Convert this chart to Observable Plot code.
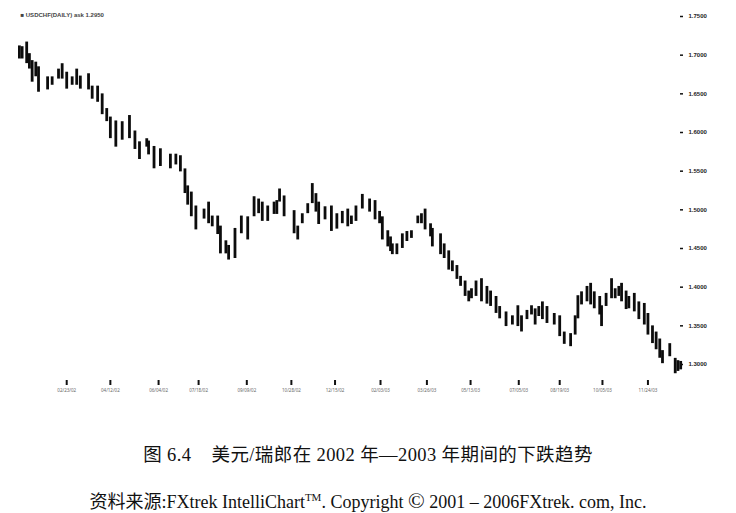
<!DOCTYPE html>
<html>
<head>
<meta charset="utf-8">
<script src="https://cdn.jsdelivr.net/npm/d3@7"></script>
<script src="https://cdn.jsdelivr.net/npm/@observablehq/plot@0.6"></script>
<style>
  html, body { margin: 0; padding: 0; background: #fff; }
  #wrap { position: relative; width: 736px; height: 513px; overflow: hidden; }
  .cap { position: absolute; left: 0; width: 736px; text-align: center; white-space: nowrap;
         font-family: "Liberation Serif", "Noto Sans CJK SC", serif; color: #111; }
  #cap1 { top: 442px; font-size: 18.5px; line-height: 26px; letter-spacing: 0.4px; }
  #cap2 { top: 484px; font-size: 18px; line-height: 26px; }
  #cap2 b { font-family: "Noto Sans CJK SC", sans-serif; font-weight: 400; }
</style>
</head>
<body>
<div id="wrap">
  <div id="chart"></div>
  <div class="cap" id="cap1">图 6.4&nbsp;&nbsp;&nbsp;&nbsp;美元/瑞郎在 2002 年—2003 年期间的下跌趋势</div>
  <div class="cap" id="cap2"><b>资料来源</b>:FXtrek IntelliChart<sup style="font-size:11px">TM</sup>. Copyright <span style="font-size:22px">©</span> 2001 – 2006FXtrek. com, Inc.</div>
</div>
<script>
// day offsets from 2002-01-01
const day = [1,4,9,12,15,19,22,32,37,44,48,53,59,64,68,77,81,87,92,97,101,107,114,122,128,133,141,143,149,156,167,173,178,183,186,190,195,204,209,213,219,222,228,231,238,245,252,259,264,268,274,281,284,287,292,303,307,312,318,323,327,330,337,344,350,356,362,366,371,378,386,392,397,400,406,409,411,416,422,427,432,439,443,447,453,455,464,468,473,477,482,486,491,495,498,503,509,515,519,525,529,536,543,549,553,559,564,568,572,576,581,589,595,600,607,612,615,619,625,629,633,639,641,646,652,656,660,663,668,671,677,682,688,692,697,701,705,708,716,722,725,728];
const high = [1.710,1.709,1.715,1.700,1.691,1.689,1.683,1.670,1.670,1.680,1.687,1.676,1.670,1.680,1.671,1.674,1.658,1.658,1.648,1.629,1.618,1.613,1.612,1.620,1.600,1.586,1.590,1.587,1.580,1.577,1.570,1.570,1.568,1.551,1.529,1.521,1.503,1.499,1.508,1.490,1.490,1.477,1.458,1.452,1.474,1.490,1.489,1.515,1.512,1.508,1.503,1.508,1.510,1.525,1.516,1.497,1.477,1.493,1.506,1.532,1.519,1.508,1.502,1.503,1.493,1.496,1.499,1.490,1.503,1.518,1.512,1.510,1.496,1.489,1.471,1.463,1.454,1.454,1.467,1.470,1.471,1.490,1.493,1.499,1.480,1.474,1.467,1.454,1.445,1.432,1.426,1.412,1.406,1.393,1.396,1.406,1.409,1.399,1.393,1.386,1.373,1.366,1.361,1.374,1.361,1.368,1.374,1.370,1.373,1.379,1.373,1.364,1.361,1.340,1.338,1.361,1.387,1.392,1.399,1.403,1.392,1.386,1.374,1.390,1.409,1.396,1.399,1.403,1.393,1.386,1.390,1.379,1.377,1.364,1.348,1.340,1.331,1.316,1.325,1.306,1.303,1.302];
const low = [1.697,1.697,1.691,1.684,1.667,1.674,1.654,1.657,1.663,1.671,1.671,1.658,1.663,1.663,1.658,1.657,1.645,1.641,1.625,1.616,1.594,1.583,1.592,1.594,1.580,1.567,1.583,1.573,1.555,1.558,1.555,1.560,1.551,1.523,1.508,1.493,1.476,1.490,1.484,1.480,1.470,1.445,1.445,1.437,1.439,1.471,1.463,1.493,1.497,1.487,1.487,1.496,1.496,1.512,1.493,1.471,1.463,1.484,1.497,1.510,1.499,1.483,1.489,1.474,1.477,1.484,1.480,1.483,1.487,1.503,1.499,1.489,1.484,1.463,1.454,1.448,1.444,1.444,1.452,1.461,1.465,1.484,1.484,1.476,1.467,1.454,1.444,1.439,1.424,1.422,1.412,1.403,1.390,1.383,1.387,1.390,1.383,1.380,1.377,1.368,1.361,1.351,1.353,1.351,1.344,1.360,1.366,1.353,1.364,1.360,1.355,1.353,1.338,1.328,1.325,1.340,1.361,1.379,1.383,1.379,1.374,1.366,1.351,1.377,1.387,1.387,1.390,1.383,1.373,1.374,1.370,1.360,1.353,1.340,1.329,1.321,1.310,1.303,1.312,1.290,1.293,1.295];
const yTicks = [1.30,1.35,1.40,1.45,1.50,1.55,1.60,1.65,1.70,1.75];
const xTickDays = [53,101,154,198,251,300,348,398,449,497,550,595,642,692];
const header = "■ USDCHF(DAILY) ask 1.2950";

const base = Date.UTC(2002, 0, 1);
const toDate = d => new Date(base + d * 864e5);
const rows = day.map((d, i) => ({date: toDate(d), high: high[i], low: low[i]}));
const xTicks = xTickDays.map(toDate);

const chart = Plot.plot({
  width: 736,
  height: 420,
  marginLeft: 18,
  marginTop: 10,
  marginRight: 57,
  marginBottom: 40,
  style: {background: "#fff", color: "#111"},
  x: {type: "utc", domain: [toDate(0), toDate(730)], range: [18, 682]},
  y: {domain: [1.30, 1.75], range: [364, 16]},
  marks: [
    Plot.ruleX(rows, {x: "date", y1: "low", y2: "high", stroke: "#222", strokeWidth: 1}),
    Plot.ruleX(rows, {x: "date", y1: "low", y2: "high", stroke: "#0c0c0c", strokeWidth: 2.8, insetTop: 1.5, insetBottom: 1.5}),
    Plot.axisY({anchor: "right", ticks: yTicks, tickFormat: d3.format(".4f"), tickSize: 3, tickPadding: 6,
      fontSize: 6, fontWeight: "bold", fontFamily: "Liberation Sans, Arial, sans-serif", fill: "#222", strokeWidth: 1.5, label: null}),
    Plot.axisX({anchor: "bottom", ticks: xTicks, tickFormat: d3.utcFormat("%m/%d/%y"), tickSize: 5, tickPadding: 3,
      fontSize: 4.5, fill: "#666", strokeWidth: 2, label: null}),
    Plot.text([header], {frameAnchor: "top-left", text: d => d, dx: 2, dy: 2, fontSize: 6, fontWeight: "bold",
      fill: "#444", textAnchor: "start", fontFamily: "Liberation Sans, Arial, sans-serif"})
  ]
});
document.getElementById("chart").appendChild(chart);
</script>
</body>
</html>
